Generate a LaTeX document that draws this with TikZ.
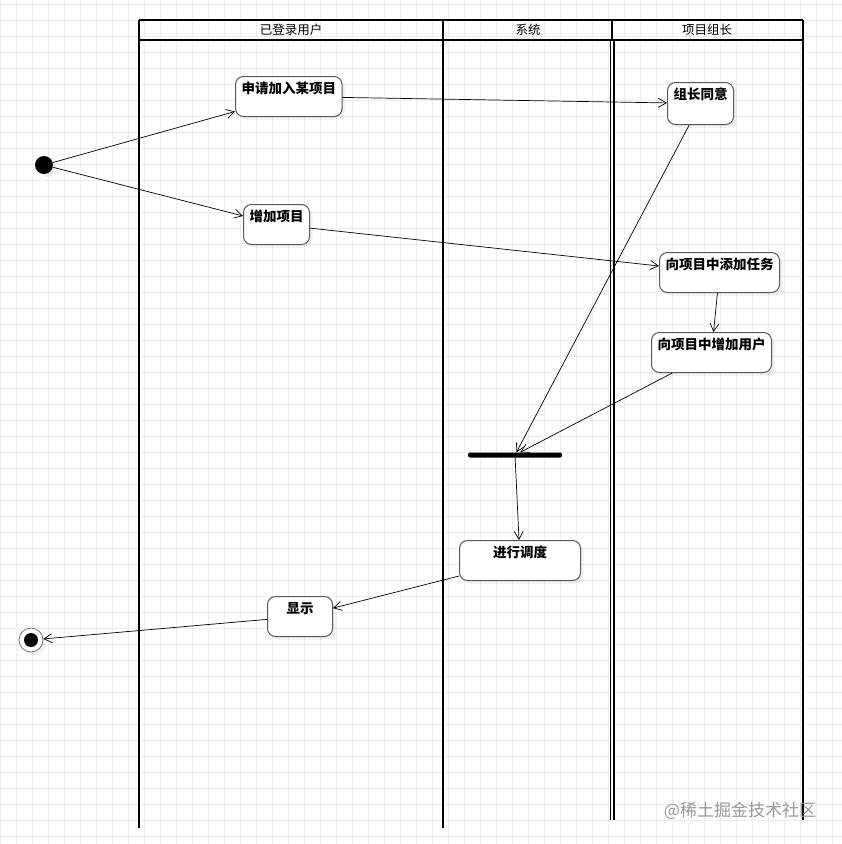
\documentclass[tikz,border=0pt]{standalone}
\usepackage{fontspec}
\setmainfont{Noto Sans CJK SC}
\usepackage{tikz}
\usetikzlibrary{arrows.meta}
\usetikzlibrary{shadows}
\tikzset{
  act/.style={draw=black!65, line width=1pt, rounded corners=8pt, fill=white,
    font=\bfseries\fontsize{13.5}{15}\selectfont, anchor=north west,
    minimum height=40pt, text height=13pt, text depth=19pt,
    inner xsep=6pt, inner ysep=4pt,
    drop shadow={opacity=0.12, shadow xshift=3pt, shadow yshift=-3pt}},
  lane/.style={line width=2pt},
  head/.style={font=\fontsize{12.5}{14}\selectfont},
  flow/.style={-{Straight Barb[length=8pt,width=9pt]}, line width=0.7pt},
  startdot/.style={circle, fill=black, minimum size=18pt, inner sep=0pt,
    drop shadow={opacity=0.12, shadow xshift=3pt, shadow yshift=-3pt}},
  stopdot/.style={circle, draw=black!60, line width=0.7pt, fill=white, minimum size=24pt, inner sep=0pt,
    path picture={\fill[black] (path picture bounding box.center) circle (7pt);},
    drop shadow={opacity=0.12, shadow xshift=3pt, shadow yshift=-3pt}},
  forkbar/.style={fill=black, rounded corners=2pt, minimum width=94pt, minimum height=5pt, inner sep=0pt},
}

\begin{document}
\begin{tikzpicture}[x=1pt, y=1pt]
\useasboundingbox (0, 0) rectangle (842, -844);
\fill[white] (0, 0) rectangle (842, -844);
\begin{scope}
\clip (0, 0) rectangle (842, -844);
\draw[black!7, line width=0.8pt, step=16pt, shift={(0.7, -4)}] (-16, 16) grid (860, -860);
\end{scope}

\draw[lane] (139, -20) -- (803, -20);
\draw[lane] (139, -40) -- (803, -40);
\draw[lane] (139, -20) -- (139, -828);
\draw[lane] (443, -20) -- (443, -828);
\draw[lane] (611.5, -20) -- (611.5, -40);
\draw[line width=1.4pt] (610.5, -40) -- (610.5, -820);
\draw[line width=1.4pt] (614, -40) -- (614, -820);
\draw[lane] (803, -20) -- (803, -820);
\draw (291, -30) node[head]{已登录用户};
\draw (528, -30) node[head]{系统};
\draw (707, -30) node[head]{项目组长};

\draw (44, -165) node[startdot] (start) {};
\draw (31, -640) node[stopdot] (stop) {};
\draw (235, -76) node[act] (apply) {申请加入某项目};
\draw (243, -204) node[act] (addproj) {增加项目};
\draw (667, -82) node[act, minimum height=42pt, text depth=21pt] (agree) {组长同意};
\draw (659, -252) node[act] (addtask) {向项目中添加任务};
\draw (651, -332) node[act] (adduser) {向项目中增加用户};
\draw (515, -455) node[forkbar] (fork) {};
\draw (459, -540) node[act, minimum width=121pt] (sched) {进行调度};
\draw (267, -596) node[act, minimum width=65pt] (show) {显示};

\draw[flow] (start) -- (apply);
\draw[flow] (start) -- (addproj);
\draw[flow] (apply) -- (agree);
\draw[flow] (addproj) -- (addtask);
\draw[flow] (addtask) -- (adduser);
\draw[flow] (agree) -- (fork);
\draw[flow] (adduser) -- (fork);
\draw[flow] (fork) -- (sched);
\draw[flow] (sched) -- (show);
\draw[flow] (show) -- (stop);

\draw (740, -811) node[text=black!40, font=\fontsize{17}{19}\selectfont] (mark) {@稀土掘金技术社区};
\end{tikzpicture}
\end{document}
